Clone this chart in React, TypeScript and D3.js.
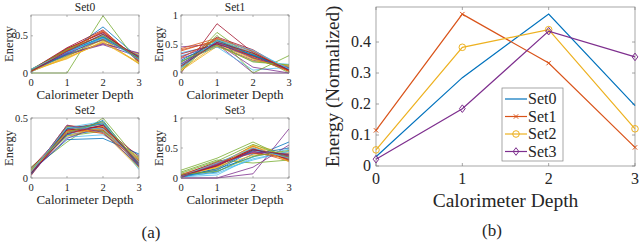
import React from 'react';
import * as d3 from 'd3';

// depth index on the x axis, shared by every panel
const depths = [0, 1, 2, 3];

// MATLAB default colour order
const matlabColors = ['#0072BD', '#D95319', '#EDB120', '#7E2F8E', '#77AC30', '#4DBEEE', '#A2142F'];

// (a) per-sample energy profiles
const set0Lines = [
  [0.03, 0.27, 0.62, 0.20], [0.04, 0.30, 0.52, 0.18], [0.02, 0.22, 0.45, 0.12], [0.03, 0.25, 0.38, 0.22],
  [0.00, 0.00, 0.77, 0.12], [0.05, 0.28, 0.48, 0.24], [0.02, 0.32, 0.55, 0.17], [0.03, 0.29, 0.47, 0.21],
  [0.04, 0.33, 0.50, 0.19], [0.02, 0.20, 0.42, 0.14], [0.03, 0.24, 0.40, 0.26], [0.05, 0.31, 0.44, 0.23],
  [0.01, 0.26, 0.53, 0.16], [0.04, 0.34, 0.58, 0.15], [0.02, 0.28, 0.49, 0.22], [0.03, 0.31, 0.56, 0.18],
  [0.04, 0.19, 0.43, 0.25], [0.02, 0.26, 0.39, 0.27], [0.05, 0.23, 0.46, 0.21], [0.03, 0.29, 0.51, 0.20],
  [0.02, 0.33, 0.54, 0.17], [0.04, 0.25, 0.48, 0.19], [0.03, 0.30, 0.57, 0.16], [0.02, 0.21, 0.41, 0.13],
  [0.04, 0.27, 0.45, 0.23], [0.03, 0.32, 0.50, 0.20], [0.05, 0.28, 0.47, 0.18], [0.02, 0.29, 0.52, 0.21],
];
const set1Lines = [
  [0.20, 0.45, 0.30, 0.10], [0.40, 0.55, 0.35, 0.05], [0.10, 0.52, 0.25, 0.08], [0.45, 0.50, 0.00, 0.00],
  [0.05, 0.70, 0.25, 0.05], [0.35, 0.48, 0.20, 0.15], [0.00, 0.85, 0.35, 0.05], [0.15, 0.50, 0.32, 0.06],
  [0.42, 0.60, 0.38, 0.02], [0.08, 0.55, 0.28, 0.09], [0.25, 0.47, 0.22, 0.12], [0.18, 0.58, 0.33, 0.00],
  [0.30, 0.45, 0.05, 0.10], [0.12, 0.62, 0.40, 0.04], [0.22, 0.53, 0.30, 0.07], [0.38, 0.57, 0.27, 0.03],
  [0.06, 0.49, 0.24, 0.11], [0.28, 0.51, 0.10, 0.00], [0.02, 0.65, 0.00, 0.30], [0.14, 0.54, 0.36, 0.08],
  [0.33, 0.50, 0.29, 0.05], [0.10, 0.56, 0.31, 0.06], [0.26, 0.59, 0.37, 0.04], [0.04, 0.46, 0.21, 0.13],
  [0.16, 0.52, 0.26, 0.09], [0.20, 0.48, 0.19, 0.14], [0.08, 0.57, 0.39, 0.07], [0.12, 0.53, 0.34, 0.05],
];
const set2Lines = [
  [0.05, 0.36, 0.40, 0.16], [0.04, 0.43, 0.42, 0.10], [0.06, 0.40, 0.38, 0.08], [0.03, 0.38, 0.44, 0.12],
  [0.07, 0.30, 0.50, 0.14], [0.08, 0.34, 0.36, 0.19], [0.02, 0.41, 0.46, 0.09], [0.05, 0.32, 0.33, 0.20],
  [0.04, 0.44, 0.40, 0.11], [0.06, 0.39, 0.45, 0.13], [0.03, 0.37, 0.42, 0.15], [0.09, 0.35, 0.39, 0.17],
  [0.05, 0.42, 0.47, 0.07], [0.04, 0.40, 0.43, 0.12], [0.06, 0.36, 0.48, 0.10], [0.03, 0.42, 0.37, 0.14],
  [0.07, 0.38, 0.41, 0.16], [0.05, 0.33, 0.44, 0.12], [0.04, 0.43, 0.39, 0.09], [0.06, 0.37, 0.46, 0.13],
  [0.08, 0.40, 0.42, 0.18], [0.03, 0.41, 0.45, 0.11], [0.05, 0.39, 0.40, 0.14], [0.06, 0.35, 0.43, 0.15],
  [0.04, 0.44, 0.38, 0.10], [0.07, 0.38, 0.47, 0.12], [0.05, 0.42, 0.41, 0.13], [0.04, 0.37, 0.44, 0.12],
];
const set3Lines = [
  [0.03, 0.15, 0.35, 0.60], [0.02, 0.20, 0.50, 0.30], [0.05, 0.18, 0.55, 0.40], [0.00, 0.00, 0.07, 0.82],
  [0.13, 0.33, 0.60, 0.32], [0.04, 0.12, 0.30, 0.45], [0.01, 0.22, 0.48, 0.35], [0.02, 0.10, 0.40, 0.50],
  [0.06, 0.25, 0.45, 0.28], [0.03, 0.14, 0.52, 0.38], [0.00, 0.00, 0.18, 0.55], [0.10, 0.30, 0.25, 0.30],
  [0.02, 0.05, 0.35, 0.48], [0.04, 0.27, 0.42, 0.33], [0.01, 0.16, 0.47, 0.36], [0.05, 0.23, 0.53, 0.29],
  [0.03, 0.19, 0.38, 0.42], [0.02, 0.24, 0.44, 0.37], [0.08, 0.28, 0.56, 0.34], [0.04, 0.08, 0.32, 0.44],
  [0.02, 0.21, 0.49, 0.31], [0.03, 0.13, 0.46, 0.39], [0.01, 0.26, 0.41, 0.35], [0.05, 0.17, 0.54, 0.27],
  [0.02, 0.22, 0.43, 0.40], [0.06, 0.11, 0.36, 0.46], [0.03, 0.25, 0.50, 0.33], [0.04, 0.20, 0.47, 0.38],
];

// (b) normalized averages
const avgNames = ['Set0', 'Set1', 'Set2', 'Set3'];
const avgSet0 = [0.03, 0.285, 0.49, 0.195];
const avgSet1 = [0.115, 0.49, 0.332, 0.06];
const avgSet2 = [0.052, 0.383, 0.44, 0.12];
const avgSet3 = [0.022, 0.185, 0.435, 0.352];
const avgMarkers = ['none', 'x', 'circle', 'diamond'];

const serif = '"Liberation Serif", "Times New Roman", serif';
const axisGray = '#808080';
const textCol = '#262626';

function SmallPanel(props: { title: string, lines: number[][], ymax: number, yticks: number[], left: number, top: number, right: number, bottom: number }) {
  const { title, lines, ymax, yticks, left, top, right, bottom } = props;
  const x = d3.scaleLinear().domain([0, 3]).range([left, right]);
  const y = d3.scaleLinear().domain([0, ymax]).range([bottom, top]);
  const line = d3.line<number>().x((d, i) => x(depths[i])).y(d => y(d));
  return (
    <g>
      <defs>
        <clipPath id={`clip_${title}`}>
          <rect x={left} y={top - 1} width={right - left} height={bottom - top + 2} />
        </clipPath>
      </defs>
      <g clipPath={`url(#clip_${title})`}>
        {lines.map((d, i) => (
          <path key={i} d={line(d) || ''} fill="none" stroke={matlabColors[i % 7]} strokeWidth={0.8} />
        ))}
      </g>
      <rect x={left} y={top} width={right - left} height={bottom - top} fill="none" stroke={axisGray} strokeWidth={0.6} />
      {depths.map(t => (
        <g key={t}>
          <line x1={x(t)} x2={x(t)} y1={bottom} y2={bottom - 2} stroke={axisGray} strokeWidth={0.6} />
          <line x1={x(t)} x2={x(t)} y1={top} y2={top + 2} stroke={axisGray} strokeWidth={0.6} />
          <text x={x(t)} y={bottom + 13} textAnchor="middle" fontSize={10.5} fontFamily={serif} fill={textCol}>{t}</text>
        </g>
      ))}
      {yticks.map(t => (
        <g key={t}>
          <line x1={left} x2={left + 2} y1={y(t)} y2={y(t)} stroke={axisGray} strokeWidth={0.6} />
          <line x1={right} x2={right - 2} y1={y(t)} y2={y(t)} stroke={axisGray} strokeWidth={0.6} />
          <text x={left - 3} y={y(t) + 3.5} textAnchor="end" fontSize={10.5} fontFamily={serif} fill={textCol}>{t}</text>
        </g>
      ))}
      <text x={(left + right) / 2} y={top - 4} textAnchor="middle" fontSize={11.5} fontFamily={serif} fill={textCol}>{title}</text>
      <text x={(left + right) / 2} y={bottom + 26} textAnchor="middle" fontSize={13} fontFamily={serif} fill={textCol}>Calorimeter Depth</text>
      <text transform={`translate(${left - 18},${(top + bottom) / 2}) rotate(-90)`} textAnchor="middle" fontSize={12.5} fontFamily={serif} fill={textCol}>Energy</text>
    </g>
  );
}

function Marker(props: { kind: string, cx: number, cy: number, color: string }) {
  const { kind, cx, cy, color } = props;
  if (kind === 'x') {
    const s = 2.2;
    return <path d={`M${cx - s},${cy - s}L${cx + s},${cy + s}M${cx - s},${cy + s}L${cx + s},${cy - s}`} stroke={color} strokeWidth={1} />;
  }
  if (kind === 'circle') return <circle cx={cx} cy={cy} r={3.3} fill="none" stroke={color} strokeWidth={1} />;
  if (kind === 'diamond') {
    const s = 3.8;
    return <path d={`M${cx},${cy - s}L${cx + s * 0.75},${cy}L${cx},${cy + s}L${cx - s * 0.75},${cy}Z`} fill="none" stroke={color} strokeWidth={1} />;
  }
  return null;
}

function AveragePanel() {
  const left = 376, right = 635, top = 7, bottom = 166;
  const x = d3.scaleLinear().domain([0, 3]).range([left, right]);
  const y = d3.scaleLinear().domain([0, 0.513]).range([bottom, top]);
  const yticks = [0, 0.1, 0.2, 0.3, 0.4];
  const series = [avgSet0, avgSet1, avgSet2, avgSet3];
  const line = d3.line<number>().x((d, i) => x(depths[i])).y(d => y(d));
  const lgX = 502, lgY = 88, lgW = 61, lgH = 73;
  return (
    <g>
      <rect x={left} y={top} width={right - left} height={bottom - top} fill="none" stroke={axisGray} strokeWidth={0.7} />
      {depths.map(t => (
        <g key={t}>
          <line x1={x(t)} x2={x(t)} y1={bottom} y2={bottom - 3} stroke={axisGray} strokeWidth={0.7} />
          <line x1={x(t)} x2={x(t)} y1={top} y2={top + 3} stroke={axisGray} strokeWidth={0.7} />
          <text x={x(t)} y={bottom + 18} textAnchor="middle" fontSize={16} fontFamily={serif} fill={textCol}>{t}</text>
        </g>
      ))}
      {yticks.map(t => (
        <g key={t}>
          <line x1={left} x2={left + 3} y1={y(t)} y2={y(t)} stroke={axisGray} strokeWidth={0.7} />
          <line x1={right} x2={right - 3} y1={y(t)} y2={y(t)} stroke={axisGray} strokeWidth={0.7} />
          <text x={left - 5} y={y(t) + 5} textAnchor="end" fontSize={16} fontFamily={serif} fill={textCol}>{t}</text>
        </g>
      ))}
      {series.map((s, i) => (
        <g key={i}>
          <path d={line(s) || ''} fill="none" stroke={matlabColors[i]} strokeWidth={1.2} />
          {s.map((v, j) => <Marker key={j} kind={avgMarkers[i]} cx={x(depths[j])} cy={y(v)} color={matlabColors[i]} />)}
        </g>
      ))}
      <text x={(left + right) / 2} y={bottom + 41} textAnchor="middle" fontSize={19.5} fontFamily={serif} fill={textCol}>Calorimeter Depth</text>
      <text transform={`translate(${left - 37},${(top + bottom) / 2}) rotate(-90)`} textAnchor="middle" fontSize={19} fontFamily={serif} fill={textCol}>Energy (Normalized)</text>
      <rect x={lgX} y={lgY} width={lgW} height={lgH} fill="white" stroke={axisGray} strokeWidth={0.7} />
      {avgNames.map((n, i) => {
        const ry = lgY + 11 + i * 17.5;
        return (
          <g key={n}>
            <line x1={lgX + 3} x2={lgX + 25} y1={ry} y2={ry} stroke={matlabColors[i]} strokeWidth={1.2} />
            <Marker kind={avgMarkers[i]} cx={lgX + 14} cy={ry} color={matlabColors[i]} />
            <text x={lgX + 26} y={ry + 5} fontSize={16} fontFamily={serif} fill={textCol}>{n}</text>
          </g>
        );
      })}
    </g>
  );
}

export default function App() {
  return (
    <svg width={640} height={245} style={{ position: 'absolute', left: 0, top: 0, background: 'white' }}>
      <SmallPanel title="Set0" lines={set0Lines} ymax={0.78} yticks={[0, 0.5]} left={31} top={15} right={139} bottom={73} />
      <SmallPanel title="Set1" lines={set1Lines} ymax={1} yticks={[0, 0.5, 1]} left={181} top={15} right={289} bottom={73} />
      <SmallPanel title="Set2" lines={set2Lines} ymax={0.5} yticks={[0, 0.5]} left={31} top={118} right={139} bottom={178} />
      <SmallPanel title="Set3" lines={set3Lines} ymax={1} yticks={[0, 0.5, 1]} left={181} top={118} right={289} bottom={178} />
      <text x={151} y={238} textAnchor="middle" fontSize={17} fontFamily={serif} fill={textCol}>(a)</text>
      <AveragePanel />
      <text x={492} y={236} textAnchor="middle" fontSize={17} fontFamily={serif} fill={textCol}>(b)</text>
    </svg>
  );
}
